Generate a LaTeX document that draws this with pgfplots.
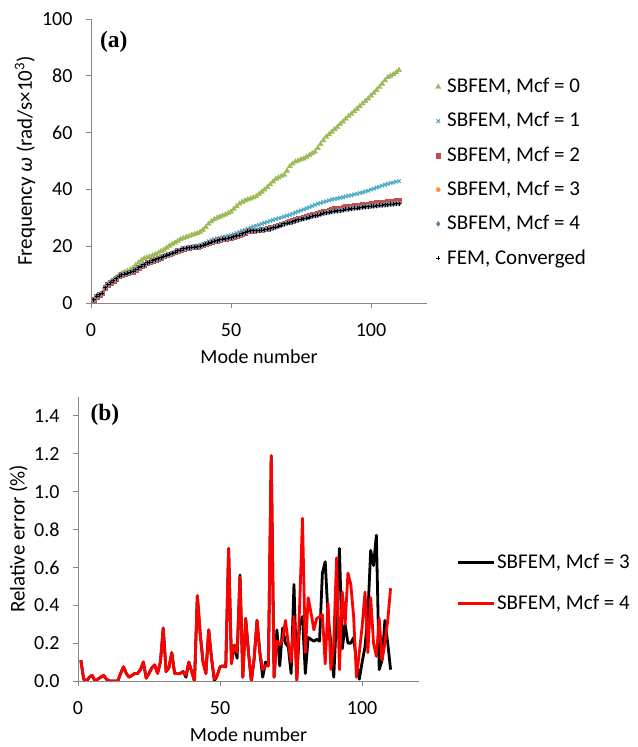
\documentclass[border=0pt]{standalone}
\usepackage{fontspec}
\setmainfont{Carlito}
\newfontfamily\timesfont{Liberation Serif}
\usepackage{pgfplots}
\usepackage{pgfplotstable}
\pgfplotsset{compat=1.18}
\definecolor{cgreen}{HTML}{9BBB59}
\definecolor{ccyan}{HTML}{4BACC6}
\definecolor{cred}{HTML}{C0504D}
\definecolor{corange}{HTML}{F79646}
\definecolor{cblue}{HTML}{4F81BD}
\definecolor{axgray}{HTML}{868686}

\pgfplotstableread{
n fem m2 m1 m0
1 1.2 1.2 1.2 1.2
2 2.4 2.4 2.4 2.4
3 3.0 3.0 3.0 3.0
4 3.5 3.5 3.5 3.6
5 5.5 5.5 5.5 5.6
6 6.5 6.5 6.5 6.6
7 7.2 7.2 7.3 7.4
8 7.9 7.9 8.0 8.2
9 8.7 8.7 8.8 9.1
10 9.5 9.5 9.6 9.9
11 10.0 10.0 10.1 10.6
12 10.3 10.3 10.4 11.0
13 10.6 10.6 10.7 11.4
14 10.9 10.9 11.0 11.8
15 11.2 11.2 11.3 12.4
16 11.8 11.8 11.9 13.4
17 12.5 12.5 12.6 14.3
18 13.1 13.1 13.2 15.1
19 13.6 13.6 13.7 15.8
20 14.2 14.2 14.3 16.1
21 14.5 14.5 14.6 16.4
22 14.9 14.9 15.0 16.8
23 15.3 15.3 15.4 17.2
24 15.6 15.6 15.7 17.7
25 16.1 16.1 16.2 18.3
26 16.5 16.5 16.6 18.8
27 16.9 16.9 17.0 19.5
28 17.2 17.2 17.3 20.2
29 17.6 17.6 17.7 20.8
30 18.0 18.0 18.1 21.3
31 18.4 18.4 18.5 21.9
32 18.7 18.7 18.8 22.5
33 19.1 19.1 19.2 22.9
34 19.4 19.4 19.5 23.3
35 19.6 19.6 19.7 23.6
36 19.7 19.7 19.9 24.0
37 19.8 19.8 20.1 24.3
38 19.9 19.9 20.3 24.6
39 20.1 20.1 20.6 25.1
40 20.4 20.4 20.9 25.8
41 20.8 20.8 21.3 26.8
42 21.2 21.2 21.8 27.9
43 21.5 21.5 22.2 28.8
44 21.8 21.8 22.5 29.5
45 22.0 22.0 22.8 30.0
46 22.3 22.3 23.0 30.4
47 22.5 22.5 23.3 30.8
48 22.7 22.7 23.5 31.2
49 22.9 22.9 23.8 31.7
50 23.1 23.1 24.0 32.2
51 23.4 23.4 24.3 33.2
52 23.7 23.7 24.7 34.1
53 24.0 24.0 25.1 35.0
54 24.4 24.4 25.5 35.6
55 24.9 24.9 25.8 36.1
56 25.3 25.4 26.2 36.5
57 25.5 25.6 26.6 36.8
58 25.5 25.6 27.0 37.2
59 25.6 25.7 27.3 37.6
60 25.6 25.7 27.6 38.4
61 25.7 25.9 27.9 39.2
62 25.9 26.1 28.3 40.0
63 26.1 26.3 28.6 40.8
64 26.3 26.5 29.0 41.8
65 26.5 26.7 29.3 42.8
66 26.8 27.1 29.6 43.7
67 27.1 27.4 29.9 44.2
68 27.5 27.8 30.2 44.7
69 27.9 28.2 30.5 45.2
70 28.2 28.5 30.8 46.6
71 28.4 28.8 31.1 48.2
72 28.7 29.1 31.5 49.1
73 29.0 29.4 31.9 49.8
74 29.3 29.7 32.3 50.2
75 29.5 29.9 32.7 50.6
76 29.8 30.3 33.0 50.9
77 30.0 30.5 33.4 51.5
78 30.3 30.8 33.8 52.1
79 30.6 31.1 34.2 52.7
80 30.8 31.3 34.6 53.3
81 31.0 31.6 35.0 54.6
82 31.3 31.9 35.3 56.0
83 31.6 32.2 35.6 57.3
84 31.8 32.4 35.9 58.5
85 32.0 32.6 36.2 59.4
86 32.2 33.0 36.5 60.3
87 32.4 33.2 36.7 61.2
88 32.5 33.3 36.9 62.0
89 32.6 33.4 37.1 63.0
90 32.8 33.6 37.3 63.9
91 33.0 33.9 37.6 64.9
92 33.1 34.0 37.8 65.8
93 33.3 34.2 38.0 66.6
94 33.4 34.3 38.3 67.5
95 33.5 34.4 38.5 68.4
96 33.6 34.5 38.8 69.3
97 33.8 34.7 39.0 70.2
98 33.9 34.8 39.3 71.1
99 34.0 34.9 39.6 72.0
100 34.1 35.0 40.0 73.0
101 34.2 35.2 40.3 74.0
102 34.3 35.3 40.7 75.0
103 34.4 35.4 41.0 76.0
104 34.5 35.5 41.4 77.2
105 34.6 35.6 41.7 78.4
106 34.7 35.7 42.0 79.5
107 34.8 35.8 42.3 80.0
108 34.9 35.9 42.5 80.5
109 35.0 36.0 42.8 81.2
110 35.1 36.1 43.0 82.0
}\freqtable

\pgfplotstableread{
n e3 e4
1 0.11 0.11
2 0.01 0.01
3 0.00 0.00
4 0.02 0.02
5 0.03 0.03
6 0.00 0.00
7 0.01 0.01
8 0.02 0.02
9 0.03 0.03
10 0.01 0.01
11 0.00 0.00
12 0.00 0.00
13 0.00 0.00
14 0.00 0.00
15 0.04 0.04
16 0.075 0.075
17 0.04 0.04
18 0.02 0.02
19 0.03 0.03
20 0.04 0.04
21 0.04 0.04
22 0.06 0.06
23 0.10 0.10
24 0.015 0.015
25 0.04 0.04
26 0.07 0.07
27 0.085 0.085
28 0.04 0.04
29 0.10 0.10
30 0.28 0.28
31 0.05 0.05
32 0.07 0.07
33 0.15 0.15
34 0.04 0.04
35 0.04 0.04
36 0.04 0.04
37 0.05 0.05
38 0.02 0.03
39 0.10 0.10
40 0.05 0.05
41 0.00 0.00
42 0.45 0.45
43 0.25 0.25
44 0.10 0.10
45 0.04 0.04
46 0.27 0.27
47 0.12 0.12
48 0.00 0.01
49 0.03 0.03
50 0.075 0.075
51 0.08 0.08
52 0.075 0.075
53 0.70 0.70
54 0.10 0.09
55 0.19 0.19
56 0.12 0.15
57 0.56 0.55
58 0.02 0.02
59 0.33 0.33
60 0.15 0.15
61 0.00 0.00
62 0.12 0.12
63 0.32 0.32
64 0.15 0.15
65 0.02 0.06
66 0.10 0.08
67 0.08 0.08
68 1.19 1.19
69 0.02 0.02
70 0.27 0.21
71 0.08 0.19
72 0.28 0.22
73 0.20 0.32
74 0.18 0.20
75 0.04 0.10
76 0.51 0.34
77 0.01 0.00
78 0.30 0.40
79 0.34 0.86
80 0.04 0.15
81 0.23 0.44
82 0.22 0.36
83 0.21 0.27
84 0.22 0.33
85 0.21 0.34
86 0.57 0.35
87 0.63 0.09
88 0.34 0.41
89 0.20 0.06
90 0.02 0.20
91 0.35 0.65
92 0.70 0.06
93 0.17 0.47
94 0.30 0.30
95 0.20 0.57
96 0.20 0.51
97 0.23 0.34
98 0.10 0.02
99 0.01 0.15
100 0.10 0.29
101 0.18 0.47
102 0.35 0.15
103 0.69 0.44
104 0.61 0.20
105 0.77 0.13
106 0.06 0.33
107 0.11 0.11
108 0.32 0.20
109 0.20 0.32
110 0.06 0.49
}\errtable

\pgfplotsset{
  excel/.style={
    scale only axis,
    axis x line=bottom, axis y line=left,
    axis line style={-, draw=axgray, line width=0.9bp},
    tick style={draw=axgray, line width=0.9bp},
    tick align=outside, major tick length=5bp,
    xmin=0, xmax=120, xtick={0,50,100},
    /pgf/number format/assume math mode=true,
    ticklabel style={font=\fontsize{20bp}{24bp}\selectfont, text=black},
    xticklabel style={yshift=-9bp},
    yticklabel style={xshift=-7bp},
    xlabel style={font=\fontsize{20bp}{24bp}\selectfont},
    ylabel style={font=\fontsize{21bp}{25bp}\selectfont},
    legend style={font=\fontsize{21bp}{25bp}\selectfont, draw=none, fill=none, legend cell align=left},
  }
}

\begin{document}
\fontsize{19bp}{23bp}\selectfont
\begin{tikzpicture}
\path[use as bounding box] (0,0) rectangle (638bp,747bp);

% ---------- (a) ----------
\begin{axis}[excel,
  at={(91bp,443.7bp)}, anchor=south west,
  width=336bp, height=284.3bp,
  ymin=0, ymax=100, ytick={0,20,40,60,80,100},
  xlabel={Mode number},
  ylabel={Frequency \textit{ω} (rad/s×10\textsuperscript{3})},
  xlabel style={at={(rel axis cs:0.5,-0.189)}, anchor=center},
  ylabel style={at={(rel axis cs:-0.196,0.5)}, anchor=center},
  legend style={at={(1.012,0.806)}, anchor=north west, row sep=13bp},
  legend image code/.code={\path[draw=none] (0bp,-2bp) rectangle (11bp,2bp); \draw[#1, only marks] plot coordinates {(4bp,0bp)};},
]
\addplot[only marks, mark=triangle*, mark size=3bp, color=cgreen] table[x=n,y=m0] {\freqtable};
\addlegendentry{SBFEM, Mcf = 0}
\addplot[only marks, mark=x, mark size=2.5bp, line width=1.1bp, color=ccyan] table[x=n,y=m1] {\freqtable};
\addlegendentry{SBFEM, Mcf = 1}
\addplot[only marks, mark=square*, mark size=2.3bp, color=cred] table[x=n,y=m2] {\freqtable};
\addlegendentry{SBFEM, Mcf = 2}
\addplot[only marks, mark=*, mark size=2.2bp, color=corange] table[x=n,y=fem] {\freqtable};
\addlegendentry{SBFEM, Mcf = 3}
\addplot[only marks, mark=diamond*, mark size=2.5bp, color=cblue] table[x=n,y=fem] {\freqtable};
\addlegendentry{SBFEM, Mcf = 4}
\addplot[only marks, mark=+, mark size=2bp, line width=1bp, color=black] table[x=n,y=fem] {\freqtable};
\addlegendentry{FEM, Converged}
\node at (rel axis cs:0.068,0.919) {\timesfont\bfseries\fontsize{23.5bp}{28bp}\selectfont (a)};
\end{axis}

% ---------- (b) ----------
\begin{axis}[excel,
  at={(78bp,66bp)}, anchor=south west,
  width=341bp, height=284bp,
  ymin=0, ymax=1.5, ytick={0,0.2,0.4,0.6,0.8,1.0,1.2,1.4},
  yticklabel style={/pgf/number format/.cd, fixed, fixed zerofill, precision=1},
  xlabel={Mode number},
  ylabel={Relative error (\%)},
  xlabel style={at={(rel axis cs:0.5,-0.19)}, anchor=center},
  ylabel style={at={(rel axis cs:-0.1745,0.5)}, anchor=center},
  legend style={at={(1.1,0.462)}, anchor=north west, row sep=20bp},
  legend image code/.code={\draw[#1] (0bp,0bp) -- (36bp,0bp);},
]
\addplot[black, line width=2.8bp, line join=round] table[x=n,y=e3] {\errtable};
\addlegendentry{SBFEM, Mcf = 3}
\addplot[red, line width=2.8bp, line join=round] table[x=n,y=e4] {\errtable};
\addlegendentry{SBFEM, Mcf = 4}
\node at (rel axis cs:0.079,0.937) {\timesfont\bfseries\fontsize{23.5bp}{28bp}\selectfont (b)};
\end{axis}
\end{tikzpicture}
\end{document}
